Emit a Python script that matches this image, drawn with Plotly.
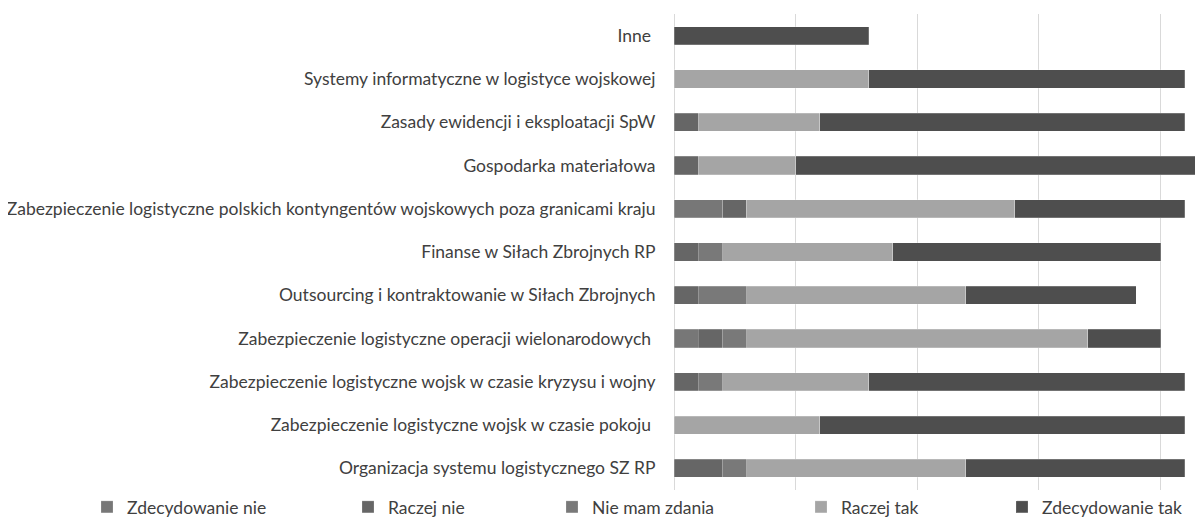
import plotly.graph_objects as go

categories = [
    "Inne ",
    "Systemy informatyczne w logistyce wojskowej",
    "Zasady ewidencji i eksploatacji SpW",
    "Gospodarka materiałowa",
    "Zabezpieczenie logistyczne polskich kontyngentów wojskowych poza granicami kraju",
    "Finanse w Siłach Zbrojnych RP",
    "Outsourcing i kontraktowanie w Siłach Zbrojnych",
    "Zabezpieczenie logistyczne operacji wielonarodowych ",
    "Zabezpieczenie logistyczne wojsk w czasie kryzysu i wojny",
    "Zabezpieczenie logistyczne wojsk w czasie pokoju ",
    "Organizacja systemu logistycznego SZ RP",
]

zdecydowanie_nie = [0, 0, 0, 0, 2, 0, 0, 1, 0, 0, 0]
raczej_nie       = [0, 0, 1, 1, 1, 1, 1, 1, 1, 0, 2]
nie_mam_zdania   = [0, 0, 0, 0, 0, 1, 2, 1, 1, 0, 1]
raczej_tak       = [0, 8, 5, 4, 11, 7, 9, 14, 6, 6, 9]
zdecydowanie_tak = [8, 13, 15, 17, 7, 11, 7, 3, 13, 15, 9]

series_names = ["Zdecydowanie nie", "Raczej nie", "Nie mam zdania", "Raczej tak", "Zdecydowanie tak"]
series_values = [zdecydowanie_nie, raczej_nie, nie_mam_zdania, raczej_tak, zdecydowanie_tak]
series_colors = ["#777777", "#666666", "#797979", "#a5a5a5", "#4e4e4e"]

# page body has an 8px margin; the figure is sized to the visible area
OFF = 8
W, H = 1203 - OFF, 525 - OFF
L = 674 - OFF
T = 14.4 - OFF
B = H - (489.6 - OFF)

# legend text start positions on screen (px)
legend_text_x = [127, 388, 592, 841, 1042]
legend_keys = ["legend", "legend2", "legend3", "legend4", "legend5"]

fig = go.Figure()
for name, vals, col, lk in zip(series_names, series_values, series_colors, legend_keys):
    fig.add_trace(go.Bar(
        y=categories, x=vals, name=name, orientation="h",
        marker=dict(color=col, line=dict(color="rgba(255,255,255,0.35)", width=0.6)),
        legend=lk, showlegend=True,
    ))

font_family = "Lato"
fs = 17.5
lay = dict(
    width=W, height=H,
    showlegend=True,
    margin=dict(l=L, r=0, t=T, b=B, autoexpand=False),
    barmode="stack",
    bargap=0.58,
    plot_bgcolor="white", paper_bgcolor="white",
    font=dict(family=font_family, size=fs, color="#404040"),
    xaxis=dict(range=[0, 529 / 24.33], dtick=5, tick0=0, showticklabels=False,
               showgrid=True, gridcolor="#d9d9d9", gridwidth=1,
               zeroline=True, zerolinecolor="#d9d9d9", zerolinewidth=1,
               showline=False, fixedrange=True, automargin=False),
    yaxis=dict(autorange="reversed", showgrid=False, ticks="outside", ticklen=14,
               tickcolor="rgba(0,0,0,0)", automargin=False,
               tickfont=dict(size=fs, color="#404040")),
)
for lk, tx in zip(legend_keys, legend_text_x):
    px = tx - OFF - 40
    lay[lk] = dict(orientation="h", xref="container", yref="container",
                   x=px / W, xanchor="left",
                   y=-4 / H, yanchor="bottom",
                   bgcolor="rgba(0,0,0,0)",
                   font=dict(size=fs, color="#404040"), itemwidth=30)
fig.update_layout(**lay)
fig.write_html("out.html")
